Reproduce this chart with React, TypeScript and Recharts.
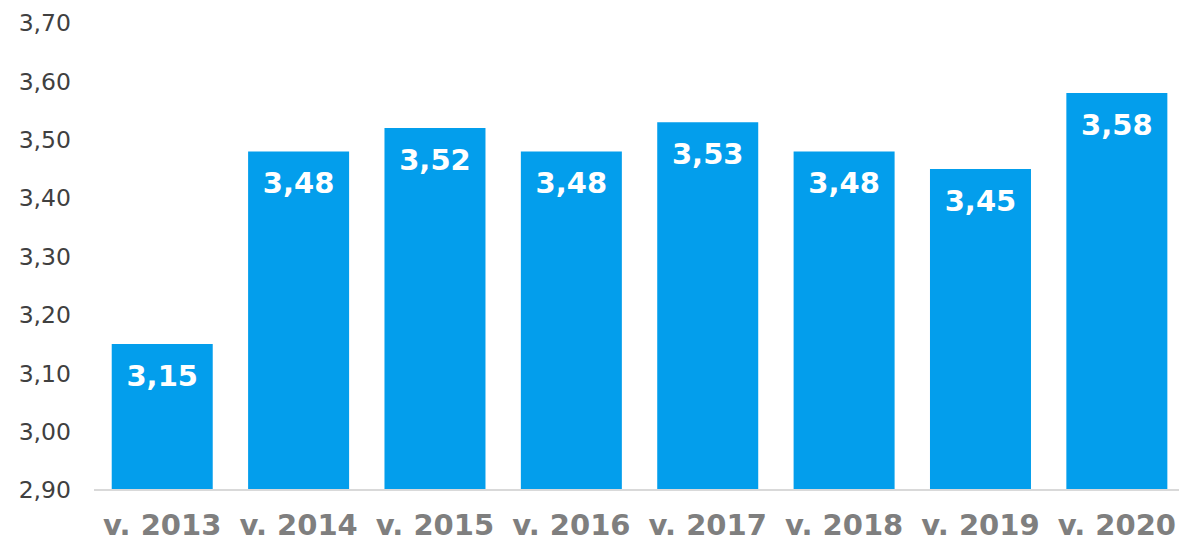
import { Bar, BarChart, LabelList, XAxis, YAxis } from 'recharts'

const years = ['v. 2013', 'v. 2014', 'v. 2015', 'v. 2016', 'v. 2017', 'v. 2018', 'v. 2019', 'v. 2020']
const values = [3.15, 3.48, 3.52, 3.48, 3.53, 3.48, 3.45, 3.58]
const yTicks = [2.9, 3.0, 3.1, 3.2, 3.3, 3.4, 3.5, 3.6, 3.7]

const data = years.map((year, i) => ({ year, value: values[i] }))

const FONT = '"DejaVu Sans", Verdana, sans-serif'
const BAR_COLOR = '#039eec'

function fmt(v: number) {
  return v.toFixed(2).replace('.', ',')
}

export default function App() {
  return (
    <div style={{ position: 'absolute', left: 0, top: 0, width: 1179, height: 544, overflow: 'hidden', fontFamily: FONT }}>
      <BarChart
        width={1179}
        height={544}
        data={data}
        barCategoryGap="13%"
        margin={{ top: 23, right: -6, left: 0, bottom: 0 }}
      >
        <XAxis
          dataKey="year"
          height={54}
          axisLine={{ stroke: '#d9d9d9', strokeWidth: 2 }}
          tickLine={false}
          tickSize={0}
          tickMargin={24}
          interval={0}
          tick={{ fontSize: 29, fontWeight: 'bold', fill: '#7f7f7f', fontFamily: FONT }}
        />
        <YAxis
          domain={[2.9, 3.7]}
          ticks={yTicks}
          width={94}
          axisLine={false}
          tickLine={false}
          tickSize={0}
          tickMargin={23}
          tickFormatter={(v) => fmt(Number(v))}
          tick={{ fontSize: 23.5, fill: '#404040', fontFamily: FONT }}
          allowDataOverflow
        />
        <Bar dataKey="value" fill={BAR_COLOR} isAnimationActive={false}>
          <LabelList
            dataKey="value"
            position="insideTop"
            offset={21}
            formatter={(v: any) => fmt(Number(v))}
            style={{ fontSize: 29, fontWeight: 'bold', fill: '#ffffff', fontFamily: FONT }}
          />
        </Bar>
      </BarChart>
    </div>
  )
}
